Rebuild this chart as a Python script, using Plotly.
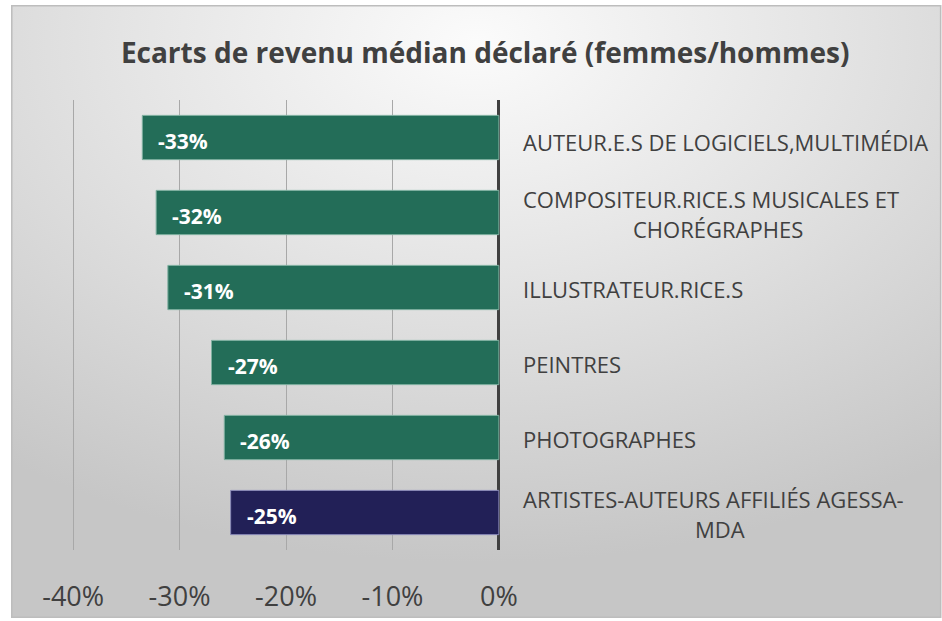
import base64
import plotly.graph_objects as go

categories = [
    "AUTEUR.E.S DE LOGICIELS,MULTIMÉDIA",
    "COMPOSITEUR.RICE.S MUSICALES ET CHORÉGRAPHES",
    "ILLUSTRATEUR.RICE.S",
    "PEINTRES",
    "PHOTOGRAPHES",
    "ARTISTES-AUTEURS AFFILIÉS AGESSA-MDA",
]
label_lines = [
    ["AUTEUR.E.S DE LOGICIELS,MULTIMÉDIA"],
    ["COMPOSITEUR.RICE.S MUSICALES ET", "CHORÉGRAPHES"],
    ["ILLUSTRATEUR.RICE.S"],
    ["PEINTRES"],
    ["PHOTOGRAPHES"],
    ["ARTISTES-AUTEURS AFFILIÉS AGESSA-", "MDA"],
]
values = [-33.5, -32.2, -31.1, -27.0, -25.8, -25.2]
value_labels = ["-33%", "-32%", "-31%", "-27%", "-26%", "-25%"]
bar_colors = ["#236d58"] * 5 + ["#222057"]
bar_edge = ["#7fb0a0"] * 5 + ["#8a8ab8"]
tick_vals = [-40, -30, -20, -10, 0]
tick_text = ["-40%", "-30%", "-20%", "-10%", "0%"]

FONT = "'Open Sans', Lato, sans-serif"
TXT = "#404040"

svg = """<svg xmlns='http://www.w3.org/2000/svg' width='931' height='613' viewBox='0 0 931 613' preserveAspectRatio='none'>
<defs><radialGradient id='g' cx='50%' cy='6%' r='85%' fx='50%' fy='6%'>
<stop offset='0' stop-color='#fbfbfb'/><stop offset='0.45' stop-color='#e4e4e4'/><stop offset='1' stop-color='#c6c6c6'/>
</radialGradient></defs>
<rect x='0' y='0' width='931' height='613' fill='url(#g)' stroke='#bdbdbd' stroke-width='3'/>
</svg>"""
bg_src = "data:image/svg+xml;base64," + base64.b64encode(svg.encode("utf-8")).decode()

fig = go.Figure()
fig.add_trace(go.Bar(
    x=values, y=categories, orientation="h",
    marker=dict(color=bar_colors, line=dict(color=bar_edge, width=1)),
    width=0.59, hoverinfo="skip",
))

annotations = []
for cat, v, lab in zip(categories, values, value_labels):
    annotations.append(dict(
        x=v, y=cat, xref="x", yref="y", text=lab, showarrow=False,
        xanchor="left", yanchor="middle", xshift=14, yshift=-3,
        font=dict(family=FONT, size=21, color="white", weight="bold"),
    ))
second_shift = [0, 219, 0, 0, 0, 221]
single_yshift = [-4, 0, -1, -1, -1, 0]
for cat, lines, s2, ys in zip(categories, label_lines, second_shift, single_yshift):
    if len(lines) == 1:
        annotations.append(dict(
            x=0, y=cat, xref="x", yref="y", text=lines[0], showarrow=False,
            xanchor="left", yanchor="middle", xshift=22, yshift=ys,
            font=dict(family=FONT, size=22, color=TXT),
        ))
    else:
        annotations.append(dict(
            x=0, y=cat, xref="x", yref="y", text=lines[0], showarrow=False,
            xanchor="left", yanchor="middle", xshift=22, yshift=14,
            font=dict(family=FONT, size=22, color=TXT),
        ))
        annotations.append(dict(
            x=0, y=cat, xref="x", yref="y", text=lines[1], showarrow=False,
            xanchor="center", yanchor="middle", xshift=s2, yshift=-16,
            font=dict(family=FONT, size=22, color=TXT),
        ))

fig.update_layout(
    width=942, height=621,
    margin=dict(l=71, r=441, t=100, b=71, autoexpand=False),
    paper_bgcolor="white", plot_bgcolor="rgba(0,0,0,0)",
    showlegend=False,
    title=dict(text="<b>Ecarts de revenu médian déclaré (femmes/hommes)</b>",
               x=0.515, xanchor="center", y=0.915, yanchor="middle",
               font=dict(family=FONT, size=28, color=TXT)),
    images=[dict(source=bg_src, xref="paper", yref="paper",
                 x=-60/430.3, y=1 + 95/450, sizex=931/430.3, sizey=613/450,
                 xanchor="left", yanchor="top", sizing="stretch", layer="below")],
    annotations=annotations,
    bargap=0.41,
)
fig.update_xaxes(
    range=[-40.2, 0.2], tickvals=tick_vals, ticktext=tick_text,
    showgrid=True, gridcolor="#a8a8a8", gridwidth=1,
    zeroline=True, zerolinecolor="#404040", zerolinewidth=3,
    tickfont=dict(family=FONT, size=27, color=TXT),
    ticks="", ticklabelstandoff=28, fixedrange=True, automargin=False,
)
fig.update_yaxes(
    autorange="reversed", showticklabels=False, showgrid=False,
    zeroline=False, fixedrange=True, automargin=False,
)

fig.write_html("out.html", config={"displayModeBar": False},
               post_script="document.body.style.margin='0';")
